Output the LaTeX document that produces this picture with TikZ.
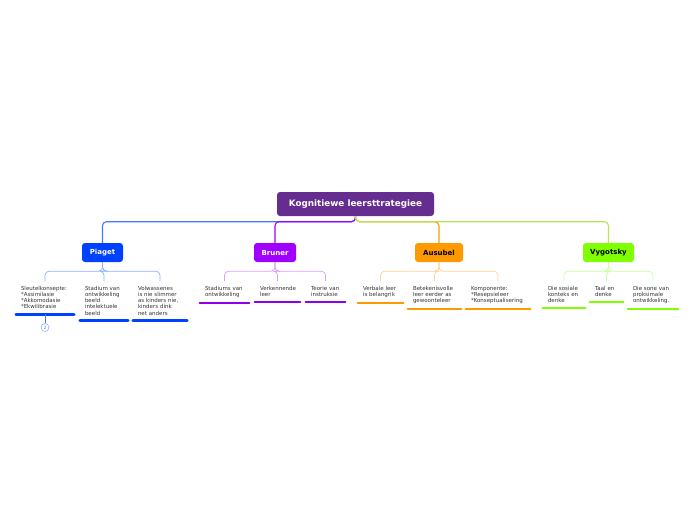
\documentclass[tikz,border=0pt]{standalone}
\usepackage{fontspec}
\setmainfont{DejaVu Sans}
\usetikzlibrary{positioning}
\definecolor{rootcol}{RGB}{102,45,145}
\definecolor{piagetcol}{RGB}{0,64,255}
\definecolor{piagetline}{RGB}{64,120,255}
\definecolor{piagetsub}{RGB}{140,175,255}
\definecolor{brunercol}{RGB}{160,0,255}
\definecolor{brunersub}{RGB}{215,160,255}
\definecolor{ausubelcol}{RGB}{255,153,0}
\definecolor{ausubelsub}{RGB}{255,210,150}
\definecolor{vygotskycol}{RGB}{128,255,0}
\definecolor{vygotskyline}{RGB}{180,230,90}
\definecolor{vygotskysub}{RGB}{200,255,150}
\tikzstyle{rootbox} = [fill=rootcol, text=white, rounded corners=3pt, font=\fontsize{8.8}{10}\selectfont\bfseries, minimum width=157pt, minimum height=24pt, inner sep=0pt]
\tikzstyle{mainbox} = [rounded corners=3pt, font=\fontsize{7}{8}\selectfont\bfseries, minimum height=19pt, inner sep=0pt]
\tikzstyle{leaf}    = [anchor=north, align=left, font=\fontsize{5.5}{6.2}\selectfont, inner xsep=5pt, inner ysep=5pt, text=black!80]
\tikzstyle{conn}    = [draw, line width=1.1pt, rounded corners=4pt]
\tikzstyle{sub}     = [draw, line width=0.7pt, rounded corners=4pt]
\tikzstyle{uline}   = [draw, line width=2.6pt, line cap=round]

\begin{document}
\begin{tikzpicture}[x=1pt, y=-1pt]
\useasboundingbox (0,0) rectangle (696,520);

% nodes
\node [rootbox] at (355.5,204) (root) {Kognitiewe leersttrategiee};

\node [mainbox, fill=piagetcol, text=white, minimum width=41pt]   at (102.5,252.5) (piaget)   {Piaget};
\node [mainbox, fill=brunercol, text=white, minimum width=42pt]   at (275,252.5)   (bruner)   {Bruner};
\node [mainbox, fill=ausubelcol, text=black, minimum width=48pt]  at (439,252.5)   (ausubel)  {Ausubel};
\node [mainbox, fill=vygotskycol, text=black, minimum width=51pt] at (608.5,252.5) (vygotsky) {Vygotsky};

\node [leaf, text width=48pt] at (45,281)    (p1) {Sleutelkonsepte:\\{*}Assimilasie\\{*}Akkomodasie\\{*}Ekwilibrasie};
\node [leaf, text width=38pt] at (104,281)   (p2) {Stadium van\\ontwikkeling\\beeld\\intelektuele\\beeld};
\node [leaf, text width=44pt] at (160,281)   (p3) {Volwassenes\\is nie slimmer\\as kinders nie,\\kinders dink\\net anders};

\node [leaf, text width=39pt] at (224.5,281) (b1) {Stadiums van\\ontwikkeling};
\node [leaf, text width=35pt] at (277.5,281) (b2) {Verkennende\\leer};
\node [leaf, text width=29pt] at (325.5,281) (b3) {Teorie van\\instruksie};

\node [leaf, text width=35pt] at (380.5,281) (a1) {Verbale leer\\is belangrik};
\node [leaf, text width=43pt] at (434.5,281) (a2) {Betekenisvolle\\leer eerder as\\gewoonteleer};
\node [leaf, text width=54pt] at (498,281)   (a3) {Komponente:\\{*}Resepsieleer\\{*}Konseptualisering};

\node [leaf, text width=32pt] at (564,281)   (v1) {Die sosiale\\konteks en\\denke};
\node [leaf, text width=23pt] at (606.5,281) (v2) {Taal en\\denke};
\node [leaf, text width=40pt] at (653,281)   (v3) {Die sone van\\proksimale\\ontwikkeling.};

\node [draw=piagetsub, circle, line width=0.6pt, inner sep=0pt, minimum size=8pt, font=\fontsize{4.5}{4.5}\selectfont, text=piagetline] at (45,327.5) (pcount) {2};

% edges
\path [conn, draw=piagetline]   (root.south) -- ++(0,5.5) -| (piaget.north);
\path [conn, draw=brunercol]    (root.south) -- ++(0,5.5) -| (bruner.north);
\path [conn, draw=ausubelcol]   (root.south) -- ++(0,5.5) -| (ausubel.north);
\path [conn, draw=vygotskyline] (root.south) -- ++(0,5.5) -| (vygotsky.north);

\foreach \c in {p1,p2,p3}
  \path [sub, draw=piagetsub] (piaget.south) -- ++(0,9) -| (\c.north);
\foreach \c in {b1,b2,b3}
  \path [sub, draw=brunersub] (bruner.south) -- ++(0,9) -| (\c.north);
\foreach \c in {a1,a2,a3}
  \path [sub, draw=ausubelsub] (ausubel.south) -- ++(0,9) -| (\c.north);
\foreach \c in {v1,v2,v3}
  \path [sub, draw=vygotskysub] (vygotsky.south) -- ++(0,9) -| (\c.north);

% underlines
\foreach \c in {p1,p2,p3}
  \path [uline, draw=piagetcol] (\c.south west) -- (\c.south east);
\foreach \c in {b1,b2,b3}
  \path [uline, draw=brunercol!90!black] (\c.south west) -- (\c.south east);
\foreach \c in {a1,a2,a3}
  \path [uline, draw=ausubelcol] (\c.south west) -- (\c.south east);
\foreach \c in {v1,v2,v3}
  \path [uline, draw=vygotskycol] (\c.south west) -- (\c.south east);

\path [draw=piagetline, line width=0.6pt] (p1.south) -- (pcount);

\end{tikzpicture}
\end{document}
